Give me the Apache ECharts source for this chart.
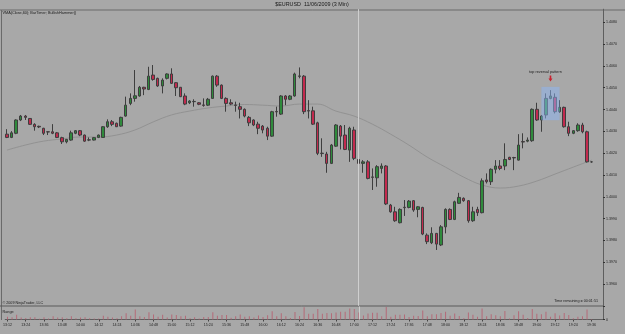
<!DOCTYPE html>
<html>
<head>
<meta charset="utf-8">
<script src="https://cdn.jsdelivr.net/npm/echarts@6/dist/echarts.min.js"></script>
<style>
html, body { margin: 0; padding: 0; background: #a8a8a8; }
#chart { width: 625px; height: 334px; }
</style>
</head>
<body>
<div id="chart"></div>
<script>
// 3 minute bars, 13:12 .. 19:36 (plus two empty slots to the right edge)
var times = []
for (var m = 13 * 60 + 12; m <= 19 * 60 + 42; m += 3) {
  var hh = Math.floor(m / 60), mm = m % 60
  times.push(hh + ':' + (mm < 10 ? '0' : '') + mm)
}

// [open, close, low, high]
var candles = [
  [1.40287, 1.40272, 1.40269, 1.40310], [1.40272, 1.40293, 1.40269, 1.40301], [1.40291, 1.40352, 1.40287, 1.40355],
  [1.40352, 1.40370, 1.40347, 1.40375], [1.40370, 1.40364, 1.40352, 1.40375], [1.40359, 1.40332, 1.40329, 1.40361],
  [1.40332, 1.40321, 1.40303, 1.40337], [1.40323, 1.40320, 1.40315, 1.40326], [1.40314, 1.40291, 1.40283, 1.40316],
  [1.40298, 1.40297, 1.40283, 1.40299], [1.40298, 1.40291, 1.40287, 1.40333], [1.40293, 1.40272, 1.40269, 1.40297],
  [1.40271, 1.40252, 1.40242, 1.40275], [1.40252, 1.40263, 1.40245, 1.40265], [1.40260, 1.40293, 1.40257, 1.40303],
  [1.40291, 1.40303, 1.40287, 1.40306], [1.40303, 1.40283, 1.40278, 1.40306], [1.40283, 1.40255, 1.40252, 1.40285],
  [1.40261, 1.40260, 1.40255, 1.40272], [1.40260, 1.40271, 1.40258, 1.40274], [1.40272, 1.40283, 1.40269, 1.40285],
  [1.40272, 1.40321, 1.40271, 1.40324], [1.40321, 1.40344, 1.40316, 1.40355], [1.40344, 1.40332, 1.40324, 1.40352],
  [1.40337, 1.40321, 1.40320, 1.40340], [1.40324, 1.40364, 1.40321, 1.40367], [1.40370, 1.40420, 1.40367, 1.40459],
  [1.40428, 1.40451, 1.40420, 1.40474], [1.40451, 1.40463, 1.40436, 1.40581], [1.40462, 1.40502, 1.40459, 1.40508],
  [1.40502, 1.40494, 1.40466, 1.40504], [1.40492, 1.40553, 1.40489, 1.40596], [1.40558, 1.40538, 1.40532, 1.40604],
  [1.40543, 1.40508, 1.40504, 1.40546], [1.40508, 1.40535, 1.40474, 1.40543], [1.40543, 1.40563, 1.40538, 1.40566],
  [1.40563, 1.40520, 1.40517, 1.40589], [1.40523, 1.40500, 1.40462, 1.40526], [1.40502, 1.40459, 1.40457, 1.40503],
  [1.40462, 1.40425, 1.40420, 1.40474], [1.40431, 1.40439, 1.40425, 1.40443], [1.40436, 1.40437, 1.40413, 1.40447],
  [1.40431, 1.40424, 1.40420, 1.40434], [1.40421, 1.40419, 1.40413, 1.40451], [1.40420, 1.40447, 1.40416, 1.40453],
  [1.40451, 1.40553, 1.40449, 1.40556], [1.40553, 1.40512, 1.40504, 1.40558], [1.40512, 1.40451, 1.40448, 1.40515],
  [1.40451, 1.40428, 1.40390, 1.40456], [1.40431, 1.40425, 1.40420, 1.40447], [1.40421, 1.40419, 1.40390, 1.40436],
  [1.40413, 1.40401, 1.40359, 1.40431], [1.40401, 1.40370, 1.40364, 1.40405], [1.40364, 1.40339, 1.40324, 1.40370],
  [1.40352, 1.40329, 1.40324, 1.40355], [1.40333, 1.40314, 1.40287, 1.40344], [1.40324, 1.40306, 1.40291, 1.40329],
  [1.40314, 1.40278, 1.40260, 1.40321], [1.40278, 1.40390, 1.40275, 1.40394], [1.40391, 1.40389, 1.40367, 1.40413],
  [1.40379, 1.40462, 1.40375, 1.40466], [1.40462, 1.40447, 1.40420, 1.40466], [1.40447, 1.40462, 1.40443, 1.40466],
  [1.40462, 1.40563, 1.40459, 1.40569], [1.40554, 1.40552, 1.40543, 1.40593], [1.40553, 1.40390, 1.40379, 1.40558],
  [1.40395, 1.40393, 1.40359, 1.40443], [1.40394, 1.40333, 1.40329, 1.40413], [1.40339, 1.40199, 1.40191, 1.40344],
  [1.40200, 1.40198, 1.40183, 1.40268], [1.40196, 1.40153, 1.40110, 1.40206], [1.40153, 1.40237, 1.40150, 1.40242],
  [1.40232, 1.40329, 1.40229, 1.40333], [1.40324, 1.40278, 1.40217, 1.40329], [1.40283, 1.40217, 1.40214, 1.40329],
  [1.40214, 1.40314, 1.40160, 1.40321], [1.40306, 1.40176, 1.40168, 1.40321], [1.40171, 1.40153, 1.40150, 1.40252],
  [1.40153, 1.40160, 1.40110, 1.40168], [1.40160, 1.40084, 1.40080, 1.40168], [1.40091, 1.40089, 1.40031, 1.40130],
  [1.40087, 1.40138, 1.40046, 1.40145], [1.40130, 1.40141, 1.40107, 1.40153], [1.40141, 1.39967, 1.39962, 1.40145],
  [1.39962, 1.39931, 1.39927, 1.39967], [1.39931, 1.39890, 1.39885, 1.39954], [1.39881, 1.39942, 1.39878, 1.39947],
  [1.39952, 1.39950, 1.39912, 1.39985], [1.39951, 1.39980, 1.39947, 1.39985], [1.39982, 1.39939, 1.39931, 1.39985],
  [1.39942, 1.39954, 1.39906, 1.39957], [1.39951, 1.39829, 1.39824, 1.39954], [1.39824, 1.39794, 1.39783, 1.39832],
  [1.39789, 1.39832, 1.39783, 1.39860], [1.39832, 1.39783, 1.39756, 1.39834], [1.39779, 1.39862, 1.39774, 1.39870],
  [1.39862, 1.39942, 1.39832, 1.39947], [1.39942, 1.39896, 1.39893, 1.39947], [1.39896, 1.39977, 1.39893, 1.39982],
  [1.39970, 1.39997, 1.39967, 1.40018], [1.39993, 1.39982, 1.39977, 1.39997], [1.39982, 1.39890, 1.39881, 1.39985],
  [1.39890, 1.39931, 1.39885, 1.39954], [1.39942, 1.39927, 1.39912, 1.39954], [1.39927, 1.40073, 1.39924, 1.40084],
  [1.40077, 1.40069, 1.40061, 1.40107], [1.40069, 1.40126, 1.40054, 1.40130], [1.40126, 1.40141, 1.40107, 1.40168],
  [1.40141, 1.40130, 1.40122, 1.40168], [1.40141, 1.40171, 1.40122, 1.40245], [1.40181, 1.40171, 1.40168, 1.40183],
  [1.40180, 1.40178, 1.40122, 1.40183], [1.40168, 1.40237, 1.40166, 1.40287], [1.40253, 1.40251, 1.40222, 1.40291],
  [1.40255, 1.40260, 1.40250, 1.40272], [1.40257, 1.40401, 1.40252, 1.40405], [1.40401, 1.40352, 1.40348, 1.40431],
  [1.40352, 1.40370, 1.40298, 1.40375], [1.40375, 1.40451, 1.40359, 1.40474], [1.40451, 1.40462, 1.40447, 1.40489],
  [1.40456, 1.40390, 1.40382, 1.40474], [1.40390, 1.40410, 1.40385, 1.40443], [1.40410, 1.40321, 1.40317, 1.40413],
  [1.40321, 1.40291, 1.40278, 1.40344], [1.40291, 1.40303, 1.40287, 1.40306], [1.40303, 1.40329, 1.40298, 1.40337],
  [1.40329, 1.40298, 1.40291, 1.40339], [1.40298, 1.40160, 1.40157, 1.40303], [1.40160, 1.40160, 1.40156, 1.40162]
]

// VMA(Close,60) read every 4th bar
var vmaStep = 4
var vmaVals = [1.40214, 1.40237, 1.40255, 1.40265, 1.40274, 1.40274, 1.40283, 1.40306, 1.40343, 1.40375,
  1.40393, 1.40407, 1.40416, 1.40423, 1.40420, 1.40416, 1.40425, 1.40425, 1.40393, 1.40370,
  1.40333, 1.40287, 1.40237, 1.40182, 1.40136, 1.40090, 1.40054, 1.40040, 1.40049, 1.40072,
  1.40104, 1.40136, 1.40168]

var rangeBadge = 0.0011
var crossBar = 77
var patternFrom = 117
var patternTo = 121
var arrowBar = 119

var FONT = '"Liberation Sans", Arial, sans-serif'

var vmaData = times.map(function (t, i) {
  return (i % vmaStep === 0 && vmaVals[i / vmaStep] !== undefined) ? vmaVals[i / vmaStep] : null
})
var rangeData = candles.map(function (c) { return +(c[3] - c[2]).toFixed(5) })
var lastClose = candles[candles.length - 1][1]

var patHigh = Math.max.apply(null, candles.slice(patternFrom + 1, patternTo).map(function (c) { return c[3] }))
var patLow = Math.min.apply(null, candles.slice(patternFrom + 1, patternTo).map(function (c) { return c[2] }))

var chart = echarts.init(document.getElementById('chart'))
var option = {
  backgroundColor: '#a8a8a8',
  animation: false,
  textStyle: { fontFamily: FONT },
  grid: [
    { left: 4.7, right: 22, top: 9.2, height: 296.6 },
    { left: 4.7, right: 22, top: 306.5, height: 13 }
  ],
  xAxis: [
    {
      type: 'category', gridIndex: 0, data: times, boundaryGap: true,
      axisLine: { show: false }, axisTick: { show: false }, axisLabel: { show: false }
    },
    {
      type: 'category', gridIndex: 1, data: times, boundaryGap: true,
      axisLine: { show: true, lineStyle: { color: '#5e5e5e', width: 1 } },
      axisTick: { show: true, interval: 3, alignWithLabel: true, length: 2, lineStyle: { color: '#444' } },
      axisLabel: { interval: 3, fontSize: 3.6, color: '#1e1e1e', margin: 3.5, fontFamily: FONT }
    }
  ],
  yAxis: [
    {
      type: 'value', gridIndex: 0, position: 'right', scale: true,
      min: 1.3950, max: 1.4086, interval: 0.001,
      splitLine: { show: false },
      axisLine: { show: true, lineStyle: { color: '#5e5e5e', width: 1 } },
      axisTick: { show: true, length: 2, lineStyle: { color: '#333' } },
      axisLabel: {
        fontSize: 3.6, color: '#1e1e1e', margin: 3, fontFamily: FONT,
        showMinLabel: false, showMaxLabel: false,
        formatter: function (v) { return v.toFixed(4) }
      }
    },
    {
      type: 'value', gridIndex: 1, position: 'right',
      min: 0, max: 0.0019, interval: 0.0019,
      splitLine: { show: false },
      axisLine: { show: true, lineStyle: { color: '#5e5e5e', width: 1 } },
      axisTick: { show: true, length: 2, lineStyle: { color: '#333' } },
      axisLabel: {
        fontSize: 3.6, color: '#1e1e1e', margin: 3, fontFamily: FONT,
        formatter: function (v) { return v === 0 ? '0' : '' }
      }
    }
  ],
  series: [
    {
      name: 'EURUSD', type: 'candlestick', xAxisIndex: 0, yAxisIndex: 0,
      data: candles.map(function (c) { return [c[0], c[1], c[2], c[3]] }),
      barWidth: 3,
      itemStyle: {
        color: '#2f8a3c', color0: '#c22a4e',
        borderColor: '#3e3e3e', borderColor0: '#3e3e3e', borderColorDoji: '#3e3e3e',
        borderWidth: 1
      },
      markLine: {
        silent: true, symbol: ['none', 'none'], animation: false,
        data: [
          { xAxis: times[crossBar], lineStyle: { color: '#cfcfcf', width: 1, type: 'solid' }, label: { show: false } },
          {
            yAxis: lastClose, lineStyle: { opacity: 0 },
            label: {
              show: true, position: 'end', distance: 1, formatter: lastClose.toFixed(4),
              backgroundColor: '#111', color: '#fff', fontSize: 3.8, padding: [1, 2], fontFamily: FONT
            }
          }
        ]
      },
      markArea: {
        silent: true, z: 3,
        itemStyle: { color: 'rgba(140,182,245,0.5)' },
        data: [[
          { xAxis: times[patternFrom], yAxis: patHigh + 0.00015 },
          { xAxis: times[patternTo], yAxis: patLow - 0.00008 }
        ]]
      },
      markPoint: {
        silent: true,
        data: [{
          coord: [times[arrowBar], candles[arrowBar][3] + 0.00053],
          symbol: 'path://M3,0 L7,0 L7,6 L10,6 L5,12 L0,6 L3,6 Z',
          symbolSize: [4, 6],
          itemStyle: { color: '#c8202e' },
          label: {
            show: true, position: 'top', distance: 2, offset: [-5, 0],
            formatter: 'top reversal pattern', fontSize: 3.8, color: '#1e1e1e', fontFamily: FONT
          }
        }]
      }
    },
    {
      name: 'VMA', type: 'line', xAxisIndex: 0, yAxisIndex: 0,
      data: vmaData, connectNulls: true, smooth: 0.4, showSymbol: false, symbol: 'none',
      lineStyle: { color: '#929292', width: 1 }, z: 1
    },
    {
      name: 'Range', type: 'bar', xAxisIndex: 1, yAxisIndex: 1,
      data: rangeData, barWidth: 1,
      itemStyle: { color: '#b56a78' },
      markLine: {
        silent: true, symbol: ['none', 'none'], animation: false,
        data: [
          { xAxis: times[crossBar], lineStyle: { color: '#cfcfcf', width: 1, type: 'solid' }, label: { show: false } },
          {
            yAxis: rangeBadge, lineStyle: { opacity: 0 },
            label: {
              show: true, position: 'end', distance: 1, formatter: rangeBadge.toFixed(4),
              backgroundColor: '#c0283a', color: '#fff', fontSize: 3.6, padding: [1, 2], fontFamily: FONT
            }
          }
        ]
      }
    }
  ],
  graphic: [
    // frames
    { type: 'line', shape: { x1: 0, y1: 10, x2: 625, y2: 10 }, style: { stroke: '#6a6a6a', lineWidth: 1 } },
    { type: 'line', shape: { x1: 1.5, y1: 10, x2: 1.5, y2: 320 }, style: { stroke: '#6a6a6a', lineWidth: 1 } },
    { type: 'line', shape: { x1: 0, y1: 306, x2: 603, y2: 306 }, style: { stroke: '#5a5a5a', lineWidth: 1 } },
    // texts
    { type: 'text', x: 312, y: 5, style: { text: '$EURUSD  11/06/2009 (3 Min)', fontSize: 5.4, fontFamily: FONT, fill: '#1a1a1a', align: 'center', verticalAlign: 'middle' } },
    { type: 'text', x: 2.5, y: 12.8, style: { text: 'VMA(Close,60); BarTimer; BullishHammer()', fontSize: 3.8, fontFamily: FONT, fill: '#1a1a1a', align: 'left', verticalAlign: 'middle' } },
    { type: 'text', x: 2.5, y: 302.7, style: { text: '\u00a9 2009 NinjaTrader, LLC', fontSize: 3.7, fontFamily: FONT, fill: '#1a1a1a', align: 'left', verticalAlign: 'middle' } },
    { type: 'text', x: 2.5, y: 311.5, style: { text: 'Range', fontSize: 3.8, fontFamily: FONT, fill: '#1a1a1a', align: 'left', verticalAlign: 'middle' } },
    { type: 'text', x: 598, y: 301, style: { text: 'Time remaining = 00:01:51', fontSize: 3.7, fontFamily: FONT, fill: '#1a1a1a', align: 'right', verticalAlign: 'middle' } }
  ]
}
chart.setOption(option)
</script>
</body>
</html>
